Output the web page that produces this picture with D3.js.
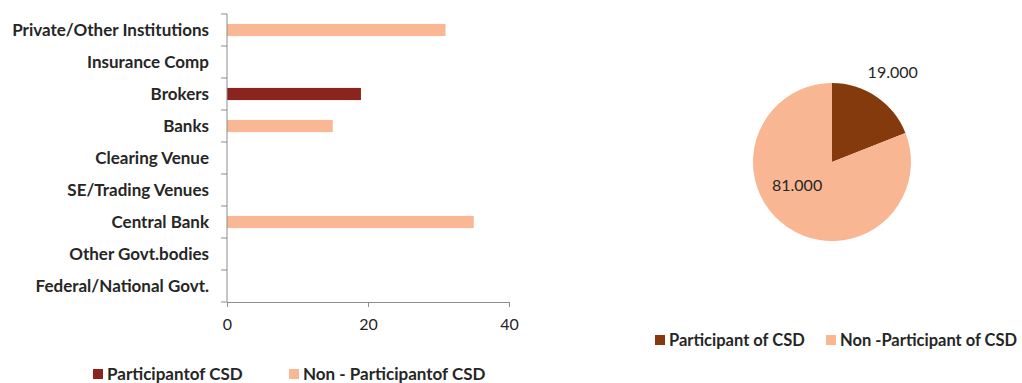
<!DOCTYPE html>
<html>
<head>
<meta charset="utf-8">
<script src="https://cdn.jsdelivr.net/npm/d3@7"></script>
<style>
  html, body { margin: 0; padding: 0; background: #fff; }
  svg { display: block; font-family: Lato, "Open Sans", sans-serif; }
</style>
</head>
<body>
<div id="chart"></div>
<script>
/* CSD participation — stacked horizontal bars by institution type, plus share pie. */

var categories = [
  "Private/Other Institutions", "Insurance Comp", "Brokers", "Banks",
  "Clearing Venue", "SE/Trading Venues", "Central Bank",
  "Other Govt.bodies", "Federal/National Govt."
];
var participant = [0, 0, 19, 0, 0, 0, 0, 0, 0];
var nonParticipant = [31, 0, 0, 15, 0, 0, 35, 0, 0];
var xTicks = [0, 20, 40];
var barLegend = ["Participantof CSD", "Non - Participantof CSD"];

var pieLabels = ["Participant of CSD", "Non -Participant of CSD"];
var pieValues = [19, 81];

var barColors = ["#8b231f", "#f9b793"];
var pieColors = ["#843a0d", "#f8b792"];
var textColor = "#262626";

var width = 1022, height = 383;
var svg = d3.select("#chart").append("svg")
  .attr("width", width).attr("height", height)
  .attr("viewBox", "0 0 " + width + " " + height);

/* ---- bar chart ---- */
var plot = { left: 227, right: 509, top: 14, bottom: 302 };

var x = d3.scaleLinear().domain([0, 40]).range([plot.left, plot.right]);
var y = d3.scaleBand().domain(categories).range([plot.top, plot.bottom]).padding(0);

var rows = categories.map(function (c, i) {
  return { cat: c, p: participant[i], n: nonParticipant[i] };
});
var stacked = d3.stack().keys(["p", "n"])(rows);

var barH = y.bandwidth() * 0.38;
var gBars = svg.append("g");
gBars.selectAll("g.series").data(stacked).enter().append("g")
  .attr("fill", function (d, i) { return barColors[i]; })
  .selectAll("rect").data(function (d) { return d; }).enter()
  .filter(function (d) { return d[1] - d[0] > 0; })
  .append("rect")
  .attr("x", function (d) { return x(d[0]); })
  .attr("width", function (d) { return x(d[1]) - x(d[0]); })
  .attr("y", function (d) { return y(d.data.cat) + (y.bandwidth() - barH) / 2; })
  .attr("height", barH);

/* axes */
var axisColor = "#8c8c8c";
var gx = svg.append("g").attr("transform", "translate(0," + plot.bottom + ")")
  .call(d3.axisBottom(x).tickValues(xTicks).tickSize(5).tickPadding(12).tickSizeOuter(0));
gx.select(".domain").attr("stroke", axisColor);
gx.selectAll(".tick line").attr("stroke", axisColor);
gx.selectAll(".tick text").attr("fill", textColor)
  .style("font-size", "16px").style("font-family", "Lato, sans-serif");

/* category axis: ticks at band edges, labels at band centres */
var gy = svg.append("g");
gy.append("line")
  .attr("x1", plot.left).attr("x2", plot.left)
  .attr("y1", plot.top).attr("y2", plot.bottom)
  .attr("stroke", axisColor);
var edges = categories.map(function (c) { return y(c); }).concat([plot.bottom]);
gy.selectAll("line.tick").data(edges).enter().append("line")
  .attr("class", "tick")
  .attr("x1", plot.left - 6).attr("x2", plot.left)
  .attr("y1", function (d) { return d; }).attr("y2", function (d) { return d; })
  .attr("stroke", axisColor);
gy.selectAll("text").data(categories).enter().append("text")
  .attr("x", plot.left - 18)
  .attr("y", function (d) { return y(d) + y.bandwidth() / 2; })
  .attr("dy", "0.35em")
  .attr("text-anchor", "end")
  .attr("fill", textColor)
  .style("font-size", "17px").style("font-weight", "bold")
  .text(function (d) { return d; });

/* bar legend */
var legX = [93, 289];
var gl = svg.append("g").attr("transform", "translate(0,374)");
barLegend.forEach(function (t, i) {
  gl.append("rect").attr("x", legX[i]).attr("y", -5).attr("width", 10).attr("height", 10)
    .attr("fill", barColors[i]);
  gl.append("text").attr("x", legX[i] + 14).attr("dy", "0.35em")
    .attr("fill", textColor)
    .style("font-size", "17px").style("font-weight", "bold")
    .text(t);
});

/* ---- pie ---- */
var cx = 832, cy = 162, r = 79;
var pie = d3.pie().sort(null).value(function (d) { return d; });
var arcs = pie(pieValues);
var arc = d3.arc().innerRadius(0).outerRadius(r);
var gp = svg.append("g").attr("transform", "translate(" + cx + "," + cy + ")");
gp.selectAll("path").data(arcs).enter().append("path")
  .attr("d", arc)
  .attr("fill", function (d, i) { return pieColors[i]; });

/* labels: small slice outside, large slice inside (Excel best-fit look) */
var labelR = [108, 42];
var labelShift = [0, 22];
gp.selectAll("text").data(arcs).enter().append("text")
  .attr("transform", function (d, i) {
    var a = (d.startAngle + d.endAngle) / 2 + labelShift[i] * Math.PI / 180;
    return "translate(" + (labelR[i] * Math.sin(a)) + "," + (-labelR[i] * Math.cos(a)) + ")";
  })
  .attr("text-anchor", "middle").attr("dy", "0.35em")
  .attr("fill", textColor)
  .style("font-size", "16px")
  .text(function (d) { return d3.format(".3f")(d.value); });

/* pie legend */
var pLegX = [655, 826];
var gpl = svg.append("g").attr("transform", "translate(0,340)");
pieLabels.forEach(function (t, i) {
  gpl.append("rect").attr("x", pLegX[i]).attr("y", -5).attr("width", 10).attr("height", 10)
    .attr("fill", pieColors[i]);
  gpl.append("text").attr("x", pLegX[i] + 14).attr("dy", "0.35em")
    .attr("fill", textColor)
    .style("font-size", "16.5px").style("font-weight", "bold")
    .text(t);
});
</script>
</body>
</html>
